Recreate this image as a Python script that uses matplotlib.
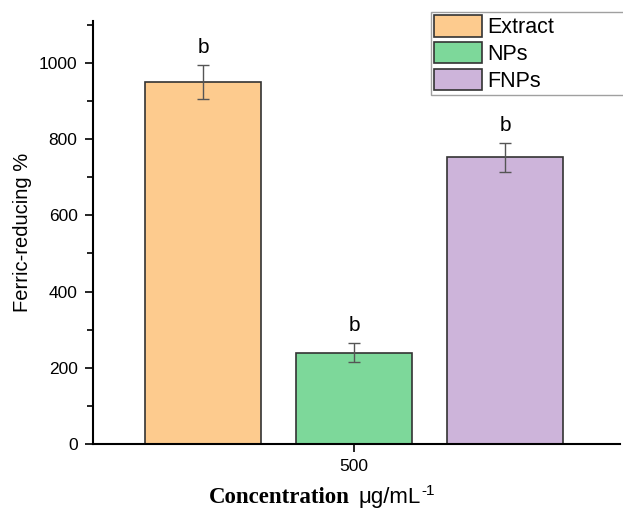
import matplotlib
matplotlib.use("Agg")
import matplotlib.pyplot as plt
from matplotlib.ticker import MultipleLocator

categories = ["Extract", "NPs", "FNPs"]
values = [950, 240, 752]
errors = [45, 26, 38]
letters = ["b", "b", "b"]
x_tick_labels = ["500"]
colors = ["#FDCB8E", "#7DD89A", "#CDB4DA"]

plt.rcParams['font.family'] = ['Liberation Sans', 'DejaVu Sans']

fig = plt.figure(figsize=(6.23, 5.11), dpi=100)
ax = fig.add_axes([0.149, 0.131, 0.846, 0.828])

xpos = [-1, 0, 1]
for i, (cat, v, e, c) in enumerate(zip(categories, values, errors, colors)):
    ax.bar(xpos[i], v, width=0.77, color=c, edgecolor="#333333", linewidth=1.2, label=cat, zorder=2)
    ax.errorbar(xpos[i], v, yerr=e, fmt='none', ecolor="#555555", elinewidth=1.0,
                capsize=4, capthick=1.0, zorder=3)
    ax.text(xpos[i], v + e + 20, letters[i], ha='center', va='bottom', fontsize=15)

ax.set_xlim(-1.73, 1.76)
ax.set_ylim(0, 1110)
ax.set_xticks([0])
ax.set_xticklabels(x_tick_labels, fontsize=12.5)
ax.set_yticks([0, 200, 400, 600, 800, 1000])
ax.yaxis.set_minor_locator(MultipleLocator(100))
ax.tick_params(axis='y', labelsize=12.5, direction='out', length=6, width=1.2, pad=5)
ax.tick_params(axis='y', which='minor', direction='out', length=4, width=1.2)
ax.tick_params(axis='x', labelsize=12.5, direction='out', length=6, width=1.2, pad=5)

for s in ['top', 'right']:
    ax.spines[s].set_visible(False)
for s in ['left', 'bottom']:
    ax.spines[s].set_linewidth(1.5)

ax.set_ylabel("Ferric-reducing %", fontsize=14.5)
ax.yaxis.set_label_coords(-(93 - 32) / (0.846 * 623), 0.5)

fig.text(0.562, 0.0157, "Concentration", fontsize=16.5, fontweight='bold',
         family='Liberation Serif', ha='right', va='baseline')
unit = fig.text(0.575, 0.0157, "μg/mL", fontsize=16, ha='left', va='baseline')
renderer = fig.canvas.get_renderer()
ext = unit.get_window_extent(renderer)
fig.text((ext.x1 + 1) / fig.bbox.width, 0.0157 + 8 / 511, "-1", fontsize=11,
         ha='left', va='baseline')

leg = ax.legend(loc='upper left', bbox_to_anchor=(431 / 623, 1 - 12 / 511, (650 - 431) / 623, 0.0),
                bbox_transform=fig.transFigure, mode='expand', fontsize=15.5,
                frameon=True, fancybox=False, edgecolor="#888888",
                handlelength=2.2, handleheight=1.15, handletextpad=0.25,
                labelspacing=0.18, borderpad=0.15, borderaxespad=0.0)
leg.get_frame().set_linewidth(1.0)

fig.savefig("out.png", dpi=100)
